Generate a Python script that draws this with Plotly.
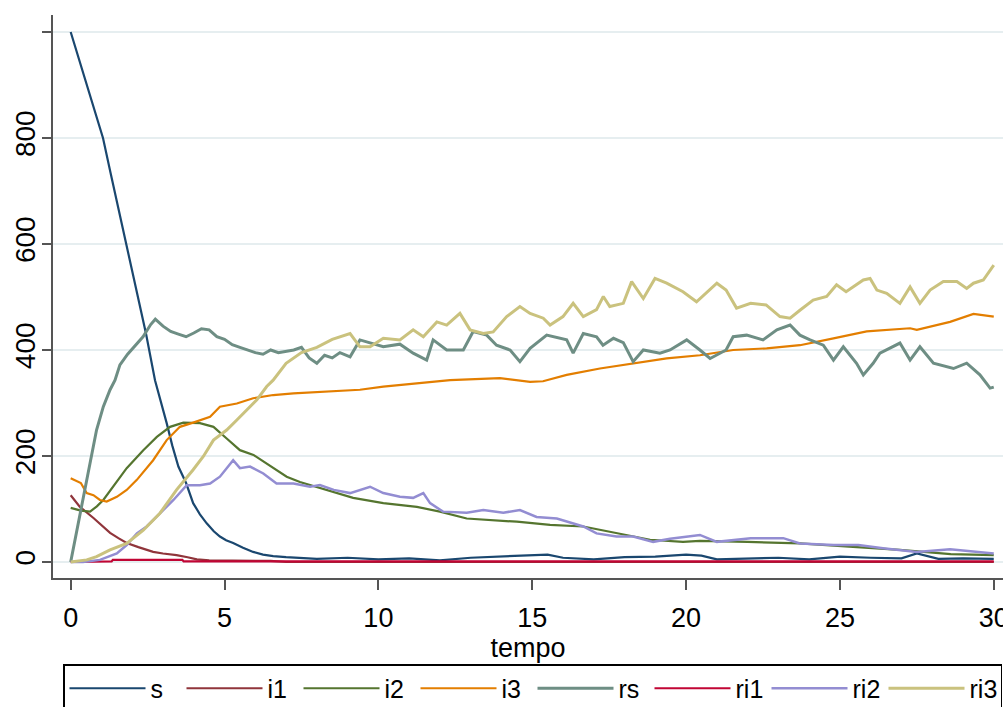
import plotly.graph_objects as go

# --- s ---
t_s = [0, 0.25, 0.5, 0.75, 1.05, 1.3, 1.55, 1.8, 2.0, 2.2, 2.45, 2.74, 2.95, 3.12, 3.3,
       3.5, 3.75, 3.98, 4.2, 4.42, 4.65, 4.85, 5.05, 5.28, 5.6, 5.93, 6.25, 6.58, 7.0,
       7.45, 8, 9, 10, 11, 12, 13, 14, 15, 15.5, 16, 17, 18, 19, 20, 20.5, 21, 22, 23,
       24, 25, 26, 27, 27.5, 27.8, 28.2, 29, 30]
v_s = [1000, 953, 905, 858, 800, 733, 667, 600, 549, 498, 430, 343, 300, 262, 220,
       180, 149, 111, 90, 73, 58, 48, 41, 36, 27, 19, 14, 11, 9,
       8, 6, 8, 5, 7, 3, 8, 10, 12, 14, 8, 5, 9, 10, 14, 12, 5, 6, 8,
       5, 10, 8, 7, 16, 12, 6, 7, 6]

# --- i1 ---
t_i1 = [0, 0.3, 0.74, 1.0, 1.28, 1.55, 1.82, 2.2, 2.68, 3.0, 3.44, 3.8, 4.1, 4.5,
        5.0, 5.5, 6.5, 7.0, 30]
v_i1 = [126, 104, 83, 70, 55, 45, 36, 28, 19, 16, 13, 9, 5, 3,
        3, 2, 2, 0, 0]

# --- i2 ---
t_i2 = [0, 0.33, 0.63, 0.85, 1.06, 1.38, 1.82, 2.36, 2.8, 3.23, 3.66, 4.2, 4.64,
        5.07, 5.5, 5.94, 6.37, 7.02, 7.45, 8.32, 9.18, 10.16, 11.25, 12.0, 12.87,
        14.5, 15.58, 16.66, 17.74, 18.83, 19.9, 20.45, 22, 23.7, 25.3, 26.95, 28.6, 30]
v_i2 = [102, 97, 95, 105, 117, 142, 177, 211, 236, 255, 263, 262, 255,
        233, 211, 202, 186, 161, 151, 136, 121, 111, 104, 95, 82,
        76, 70, 67, 54, 42, 38, 40, 38, 35, 29, 23, 15, 13]

# --- i3 ---
t_i3 = [0, 0.33, 0.52, 0.74, 0.95, 1.17, 1.5, 1.82, 2.15, 2.68, 3.12, 3.55, 3.98,
        4.53, 4.85, 5.4, 5.93, 6.58, 7.24, 8.32, 9.4, 10.16, 11.25, 12.33, 13.95,
        14.93, 15.35, 16.12, 17.2, 18.28, 19.37, 20.45, 21.53, 22.62, 23.7, 24.79,
        25.87, 27.28, 27.5, 28.58, 29.34, 30]
v_i3 = [158, 149, 130, 126, 117, 114, 123, 136, 155, 192, 230, 255, 263,
        274, 293, 299, 309, 315, 318, 321, 325, 331, 337, 343, 347,
        340, 341, 353, 365, 375, 384, 390, 400, 403, 409, 422,
        435, 441, 438, 453, 468, 463]

# --- rs ---
t_rs = [0, 0.2, 0.41, 0.63, 0.84, 1.06, 1.28, 1.44, 1.6, 1.85, 2.1, 2.35, 2.6, 2.75,
        3.0, 3.25, 3.5, 3.75, 4.0, 4.25, 4.5, 4.75, 5.0, 5.25, 5.5, 5.75, 6.0, 6.25,
        6.5, 6.75, 7.0, 7.25, 7.5, 7.75, 8.0, 8.25, 8.5, 8.75, 9.08, 9.4, 10.16,
        10.7, 11.13, 11.57, 11.78, 12.22, 12.76, 13.08, 13.52, 13.84, 14.28, 14.6,
        14.93, 15.47, 16.12, 16.33, 16.66, 17.09, 17.3, 17.64, 17.96, 18.28, 18.61,
        19.15, 19.48, 20.02, 20.45, 20.78, 21.3, 21.53, 21.97, 22.5, 22.95, 23.38,
        23.7, 24.03, 24.46, 24.79, 25.11, 25.54, 25.76, 26.08, 26.3, 26.95, 27.28,
        27.6, 28.04, 28.69, 29.12, 29.55, 29.88, 30]
v_rs = [0, 60, 123, 186, 249, 293, 325, 343, 372, 392, 409, 425, 448, 458,
        445, 435, 430, 425, 432, 440, 438, 425, 420, 410, 405, 400, 395, 392,
        400, 395, 397, 400, 405, 385, 375, 390, 385, 395, 387, 419, 406,
        411, 394, 381, 419, 400, 400, 435, 428, 409, 400, 378,
        403, 428, 419, 394, 431, 425, 409, 422, 414, 378, 400,
        394, 400, 419, 400, 384, 400, 425, 428, 419, 438, 447,
        428, 419, 409, 381, 406, 375, 353, 375, 394, 413, 381,
        406, 375, 365, 375, 353, 328, 330]

# --- ri1 ---
t_ri1 = [0, 0.38, 0.42, 1.33, 1.37, 3.63, 3.67, 30]
v_ri1 = [0, 0, 1, 1, 4, 4, 1, 1]

# --- ri2 ---
t_ri2 = [0, 0.4, 0.95, 1.5, 1.82, 2.15, 2.47, 2.9, 3.34, 3.77, 4.2, 4.53, 4.85,
         5.28, 5.5, 5.83, 6.26, 6.69, 7.24, 7.78, 8.1, 8.55, 9.08, 9.73, 10.16,
         10.7, 11.13, 11.46, 11.68, 12.1, 12.87, 13.41, 14.06, 14.6, 15.14, 15.8,
         16.66, 17.09, 17.74, 18.28, 18.93, 19.48, 20.45, 21.0, 22.1, 23.16, 23.7,
         24.8, 25.6, 26.4, 27.5, 28.58, 29.34, 30]
v_ri2 = [0, 0, 4, 16, 32, 54, 67, 92, 117, 145, 145, 148, 161,
         192, 177, 180, 167, 148, 148, 142, 145, 136, 130, 142, 130,
         123, 121, 130, 111, 95, 93, 98, 93, 98, 85, 82,
         67, 54, 48, 48, 38, 44, 51, 38, 45, 45, 35,
         32, 32, 26, 19, 24, 19, 16]

# --- ri3 ---
t_ri3 = [0, 0.52, 0.84, 1.28, 1.82, 2.36, 2.9, 3.44, 3.98, 4.31, 4.64, 5.07, 5.4,
         5.72, 6.05, 6.37, 6.58, 7.0, 7.5, 8.0, 8.5, 9.08, 9.4, 9.73, 10.16, 10.7,
         11.13, 11.46, 11.9, 12.22, 12.65, 12.98, 13.41, 13.73, 14.17, 14.6, 14.93,
         15.36, 15.58, 16.0, 16.33, 16.66, 17.09, 17.31, 17.52, 17.96, 18.23, 18.61,
         18.99, 19.37, 19.9, 20.34, 21.0, 21.3, 21.64, 22.1, 22.6, 23.05, 23.38,
         23.7, 24.13, 24.57, 24.89, 25.2, 25.76, 25.98, 26.2, 26.52, 26.95, 27.28,
         27.6, 27.93, 28.36, 28.8, 29.12, 29.34, 29.66, 30]
v_ri3 = [0, 4, 10, 23, 35, 60, 92, 136, 174, 199, 230, 249, 268,
         287, 306, 331, 343, 375, 395, 405, 420, 431, 406, 406, 422, 419,
         438, 425, 453, 447, 469, 438, 431, 434, 463, 482, 469,
         460, 447, 463, 488, 463, 476, 501, 482, 488, 529, 497,
         535, 526, 510, 491, 526, 513, 479, 488, 485, 463, 460,
         475, 494, 501, 523, 510, 532, 535, 513, 507, 488, 519,
         488, 513, 529, 529, 516, 526, 532, 560]

series = [
    ("s", t_s, v_s, "#1a476f", 2.2),
    ("i1", t_i1, v_i1, "#90353b", 2.2),
    ("i2", t_i2, v_i2, "#55752f", 2.2),
    ("i3", t_i3, v_i3, "#e37e00", 2.2),
    ("rs", t_rs, v_rs, "#6e8e84", 3),
    ("ri1", t_ri1, v_ri1, "#c10534", 2.2),
    ("ri2", t_ri2, v_ri2, "#938dd2", 2.5),
    ("ri3", t_ri3, v_ri3, "#cac27e", 3),
]

FONT = "Liberation Sans, Arial, sans-serif"

fig = go.Figure()
for name, t, v, color, w in series:
    fig.add_trace(go.Scatter(x=t, y=v, name=name, mode="lines",
                             line=dict(color=color, width=w)))

fig.update_layout(
    width=1003, height=707,
    margin=dict(l=53, r=0, t=15, b=129),
    paper_bgcolor="white", plot_bgcolor="white",
    font=dict(family=FONT, size=27, color="black"),
    showlegend=True,
    legend=dict(orientation="h", xref="container", yref="container",
                x=63 / 1003, y=1 - 664 / 707, xanchor="left", yanchor="top",
                bordercolor="black", borderwidth=1.5, font=dict(size=25),
                itemwidth=76, entrywidth=26, entrywidthmode="pixels",
                tracegroupgap=0),
)

fig.update_xaxes(
    automargin=False,
    range=[-0.575, 30.3], tickvals=[0, 5, 10, 15, 20, 25, 30],
    showgrid=False, zeroline=False, showline=True, linecolor="#555555", linewidth=1.5,
    ticks="outside", ticklen=10, tickcolor="#555555", tickwidth=1.5,
    tickfont=dict(size=27), ticklabelstandoff=5, ticklabeloverflow="allow",
    title=dict(text="tempo", font=dict(size=27), standoff=0),
)
fig.update_yaxes(
    automargin=False,
    range=[-30.2, 1032], tickvals=[0, 200, 400, 600, 800, 1000],
    showgrid=True, gridcolor="#e6eef0", gridwidth=2, zeroline=False,
    showline=True, linecolor="#555555", linewidth=1.5,
    ticks="outside", ticklen=9, tickcolor="#555555", tickwidth=1.5,
    tickangle=-90, tickfont=dict(size=28), ticklabelstandoff=-4,
)

fig.write_html("out.html")
